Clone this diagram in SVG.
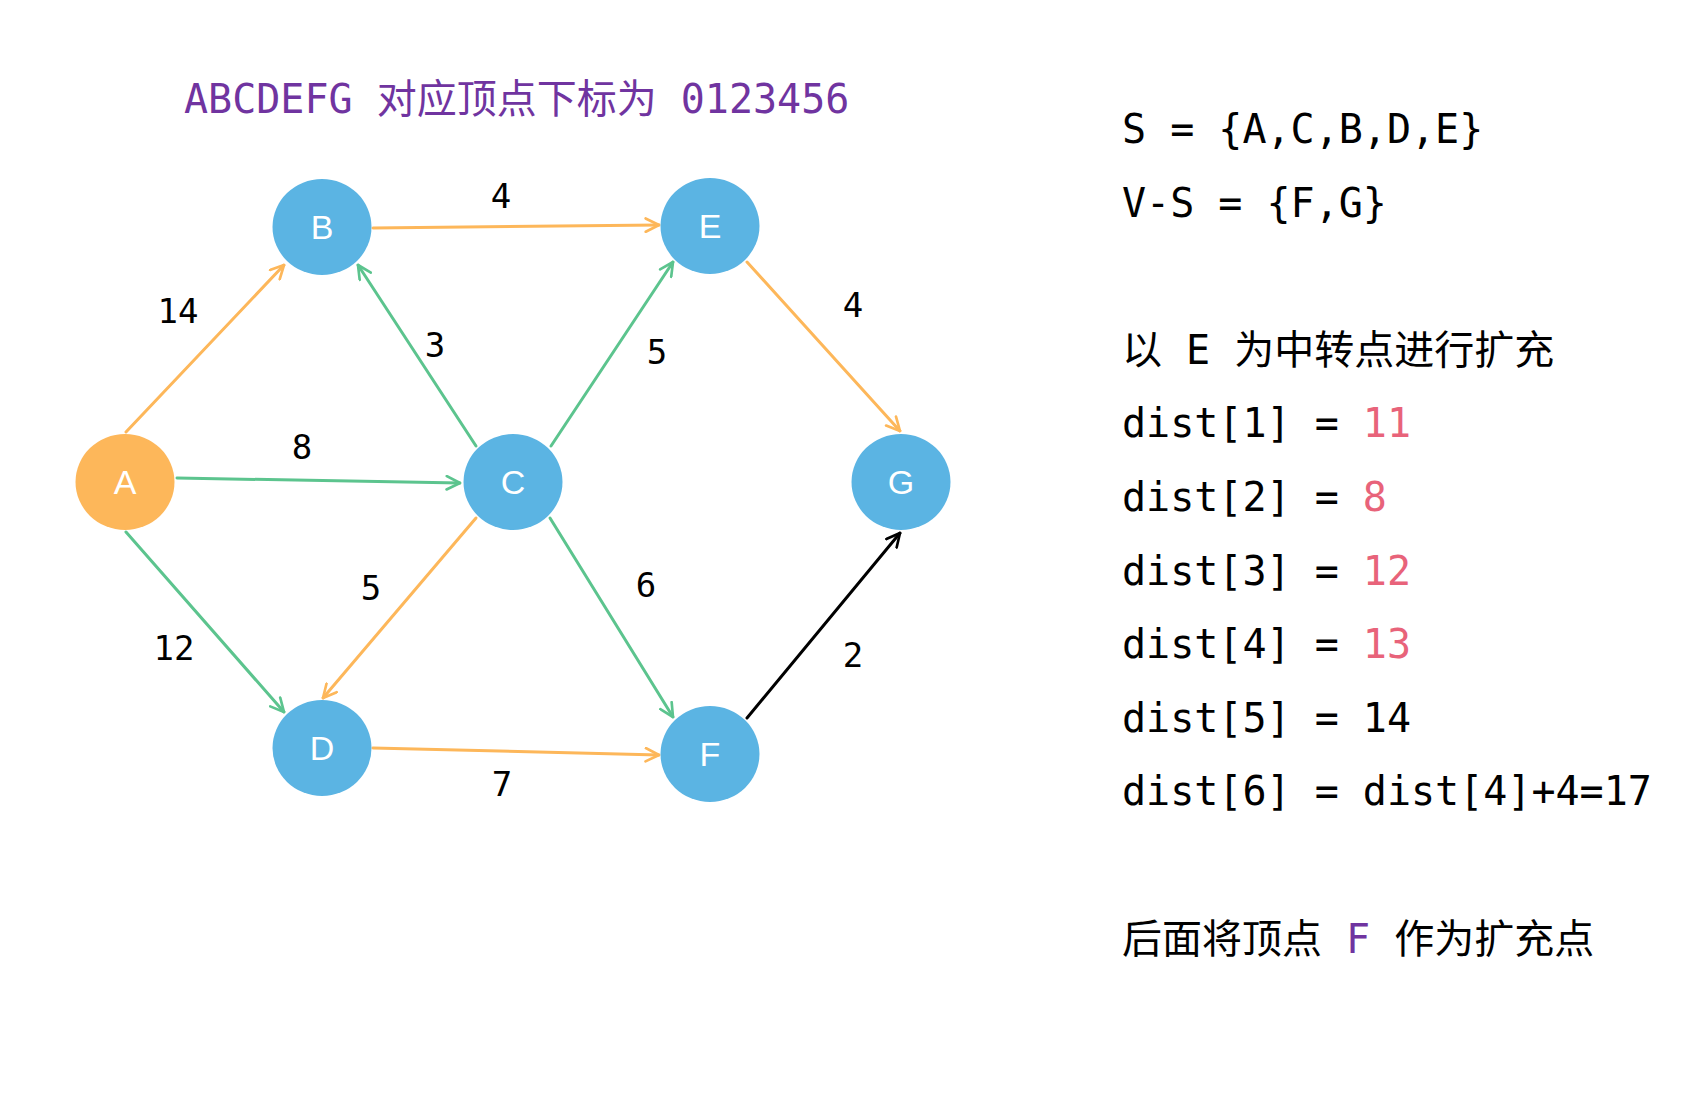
<svg xmlns="http://www.w3.org/2000/svg" width="1698" height="1094" viewBox="0 0 1698 1094">
<style>
.node ellipse{fill:#5BB4E3}
.node text{fill:#fff;font-family:"Liberation Sans",Arial,sans-serif;font-size:34px;text-anchor:middle}
.edge{fill:none;stroke-width:3;stroke-linecap:round}
.o{stroke:#FDB75A}
.g{stroke:#5CC48E}
.k{stroke:#000}
.lbl{font-family:"DejaVu Sans Mono",monospace;font-size:34px;fill:#000;text-anchor:middle}
.mono{font-family:"DejaVu Sans Mono","Noto Sans CJK SC",monospace;font-size:40px;fill:#000}
.red{fill:#E8637A}
.pur{fill:#7034A0}
</style>
<defs>
<marker id="ao" viewBox="0 0 12 12" refX="11" refY="6" markerWidth="16" markerHeight="16" markerUnits="userSpaceOnUse" orient="auto"><path d="M1,1 L11,6 L1,11" fill="none" stroke="#FDB75A" stroke-width="2" stroke-linecap="round" stroke-linejoin="round"/></marker>
<marker id="ag" viewBox="0 0 12 12" refX="11" refY="6" markerWidth="16" markerHeight="16" markerUnits="userSpaceOnUse" orient="auto"><path d="M1,1 L11,6 L1,11" fill="none" stroke="#5CC48E" stroke-width="2" stroke-linecap="round" stroke-linejoin="round"/></marker>
<marker id="ak" viewBox="0 0 12 12" refX="11" refY="6" markerWidth="16" markerHeight="16" markerUnits="userSpaceOnUse" orient="auto"><path d="M1,1 L11,6 L1,11" fill="none" stroke="#000" stroke-width="2" stroke-linecap="round" stroke-linejoin="round"/></marker>
</defs>
<rect width="1698" height="1094" fill="#fff"/>
<text class="mono pur" x="184" y="113">ABCDEFG 对应顶点下标为 0123456</text>
<g id="connectors">
<line class="edge o" x1="126" y1="432" x2="284" y2="265" marker-end="url(#ao)"/>
<line class="edge o" x1="373" y1="228" x2="659" y2="225" marker-end="url(#ao)"/>
<line class="edge g" x1="476" y1="446" x2="358" y2="265" marker-end="url(#ag)"/>
<line class="edge g" x1="551" y1="446" x2="673" y2="262" marker-end="url(#ag)"/>
<line class="edge o" x1="747" y1="262" x2="900" y2="431" marker-end="url(#ao)"/>
<line class="edge g" x1="177" y1="478" x2="460" y2="483" marker-end="url(#ag)"/>
<line class="edge g" x1="126" y1="532" x2="284" y2="712" marker-end="url(#ag)"/>
<line class="edge o" x1="476" y1="518" x2="323" y2="698" marker-end="url(#ao)"/>
<line class="edge g" x1="550" y1="518" x2="673" y2="717" marker-end="url(#ag)"/>
<line class="edge o" x1="373" y1="748" x2="659" y2="755" marker-end="url(#ao)"/>
<line class="edge k" x1="747" y1="718" x2="900" y2="533" marker-end="url(#ak)"/>
<text class="lbl" x="178" y="323">14</text>
<text class="lbl" x="501" y="208">4</text>
<text class="lbl" x="435" y="357">3</text>
<text class="lbl" x="657" y="364">5</text>
<text class="lbl" x="853" y="317">4</text>
<text class="lbl" x="302" y="459">8</text>
<text class="lbl" x="371" y="600">5</text>
<text class="lbl" x="646" y="597">6</text>
<text class="lbl" x="174" y="660">12</text>
<text class="lbl" x="853" y="667">2</text>
<text class="lbl" x="502" y="796">7</text>
</g>
<g id="A" class="node"><ellipse cx="125" cy="482" rx="49.5" ry="48" style="fill:#FDB75A"/><text x="125" y="494">A</text></g>
<g id="B" class="node"><ellipse cx="322" cy="227" rx="49.5" ry="48"/><text x="322" y="239">B</text></g>
<g id="C" class="node"><ellipse cx="513" cy="482" rx="49.5" ry="48"/><text x="513" y="494">C</text></g>
<g id="D" class="node"><ellipse cx="322" cy="748" rx="49.5" ry="48"/><text x="322" y="760">D</text></g>
<g id="E" class="node"><ellipse cx="710" cy="226" rx="49.5" ry="48"/><text x="710" y="238">E</text></g>
<g id="F" class="node"><ellipse cx="710" cy="754" rx="49.5" ry="48"/><text x="710" y="766">F</text></g>
<g id="G" class="node"><ellipse cx="901" cy="482" rx="49.5" ry="48"/><text x="901" y="494">G</text></g>
<g id="info">
<text class="mono" x="1122" y="143">S = {A,C,B,D,E}</text>
<text class="mono" x="1122" y="217">V-S = {F,G}</text>
<text class="mono" x="1122" y="364">以 E 为中转点进行扩充</text>
<text class="mono" x="1122" y="437">dist[1] = <tspan class="red">11</tspan></text>
<text class="mono" x="1122" y="511">dist[2] = <tspan class="red">8</tspan></text>
<text class="mono" x="1122" y="585">dist[3] = <tspan class="red">12</tspan></text>
<text class="mono" x="1122" y="658">dist[4] = <tspan class="red">13</tspan></text>
<text class="mono" x="1122" y="732">dist[5] = 14</text>
<text class="mono" x="1122" y="805">dist[6] = dist[4]+4=17</text>
<text class="mono" x="1122" y="953">后面将顶点 <tspan class="pur">F</tspan> 作为扩充点</text>
</g>
</svg>
